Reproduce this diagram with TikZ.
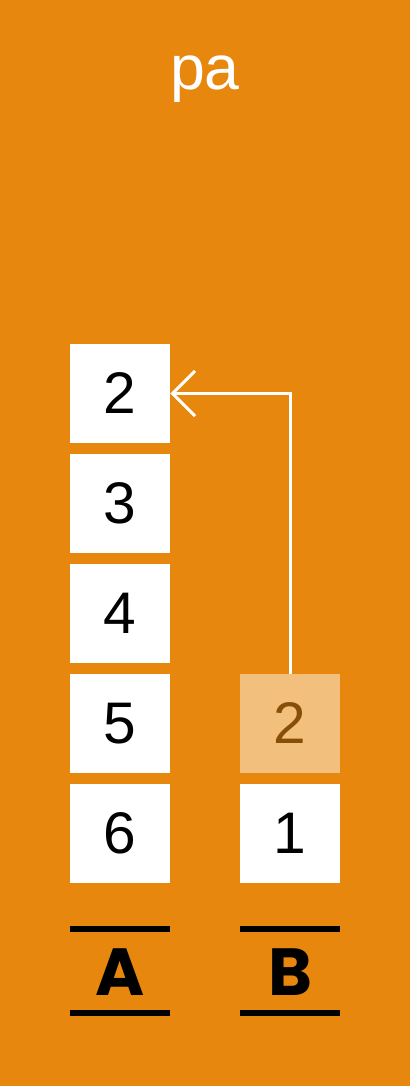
\documentclass[tikz,border=0pt]{standalone}
\usepackage{fontspec}
\setmainfont{Liberation Sans}
\newfontfamily\labfont{Poppins}
\usetikzlibrary{arrows.meta}
\definecolor{bgor}{RGB}{232,135,14}
\definecolor{fadebox}{RGB}{243,191,125}
\definecolor{fadetxt}{RGB}{135,78,8}
\begin{document}
\begin{tikzpicture}[x=0.75pt,y=-0.75pt,
  cell/.style={fill=white,draw=none,minimum width=75pt,minimum height=74.25pt,inner sep=0pt,font=\fontsize{44}{44}\selectfont,text=black},
  fadecell/.style={cell,fill=fadebox,text=fadetxt},
  bar/.style={line width=4.5pt},
  lab/.style={font=\labfont\bfseries\fontsize{50}{50}\selectfont,inner sep=0pt}]
\fill[bgor] (0,0) rectangle (410,1086);
\useasboundingbox (0,0) rectangle (410,1086);
\node[text=white,font=\fontsize{47}{47}\selectfont,inner sep=0pt,anchor=base] (title) at (205,89) {pa};
\node[cell] (a1) at (120,393.5) {2};
\node[cell] (a2) at (120,503.5) {3};
\node[cell] (a3) at (120,613.5) {4};
\node[cell] (a4) at (120,723.5) {5};
\node[cell] (a5) at (120,833.5) {6};
\node[fadecell] (b1) at (290,723.5) {2};
\node[cell] (b2) at (290,833.5) {1};
\coordinate (ta1) at (70,929); \coordinate (ta2) at (170,929);
\coordinate (ba1) at (70,1013); \coordinate (ba2) at (170,1013);
\coordinate (tb1) at (240,929); \coordinate (tb2) at (340,929);
\coordinate (bb1) at (240,1013); \coordinate (bb2) at (340,1013);
\draw[bar] (ta1) -- (ta2);
\draw[bar] (ba1) -- (ba2);
\draw[bar] (tb1) -- (tb2);
\draw[bar] (bb1) -- (bb2);
\node[lab] (la) at (120,972) {A};
\node[lab] (lb) at (290,972) {B};
\draw[white,line width=2.25pt,-{Straight Barb[length=17pt,width=34pt,line width=2.25pt]}] (b1.north) |- (a1.east);
\end{tikzpicture}
\end{document}
